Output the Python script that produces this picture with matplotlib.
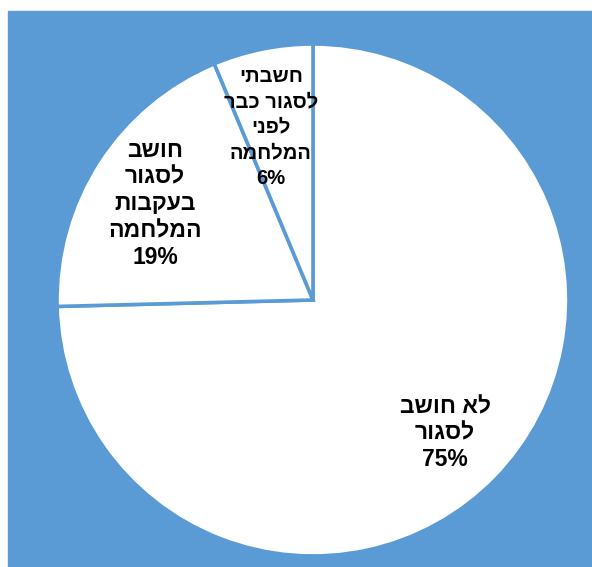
import numpy as np
import matplotlib
matplotlib.use("Agg")
import matplotlib.pyplot as plt
from matplotlib.patches import Rectangle

# survey answers (logical Hebrew order), shares in percent
answers = [
    ["לא חושב", "לסגור"],
    ["חושב", "לסגור", "בעקבות", "המלחמה"],
    ["חשבתי", "לסגור כבר", "לפני", "המלחמה"],
]
shares = [74.6, 19.1, 6.3]

blue = "#5B9BD5"
plt.rcParams["font.family"] = ["Liberation Sans", "DejaVu Sans"]

def rtl(line):
    # matplotlib has no bidi, so flip the Hebrew lines by hand
    return line[::-1]

fig = plt.figure(figsize=(5.92, 5.67), dpi=100)
fig.patches.append(Rectangle((8 / 592, 0), 1 - 8 / 592, 556 / 567,
                             transform=fig.transFigure, color=blue, zorder=-5))

ax = fig.add_axes([57 / 592, 11 / 567, 512 / 592, 512 / 567])
ax.pie(shares, startangle=90, counterclock=False, colors=["white"] * 3,
       wedgeprops=dict(edgecolor=blue, linewidth=2.6))
ax.set_xlim(-1, 1)
ax.set_ylim(-1, 1)

# label spots, in pie units
spots = [(0.516, -0.52), (-0.617, 0.375), (-0.165, 0.675)]
sizes = [16.5, 16.5, 14.5]
spacing = [1.2, 1.2, 1.43]
for lines, v, (x, y), fs, ls in zip(answers, shares, spots, sizes, spacing):
    txt = "\n".join([rtl(l) for l in lines] + [f"{v:.0f}%"])
    ax.text(x, y, txt, ha="center", va="center", multialignment="center",
            fontsize=fs, fontweight="bold", linespacing=ls)

fig.savefig("out.png", dpi=100, facecolor="white")
